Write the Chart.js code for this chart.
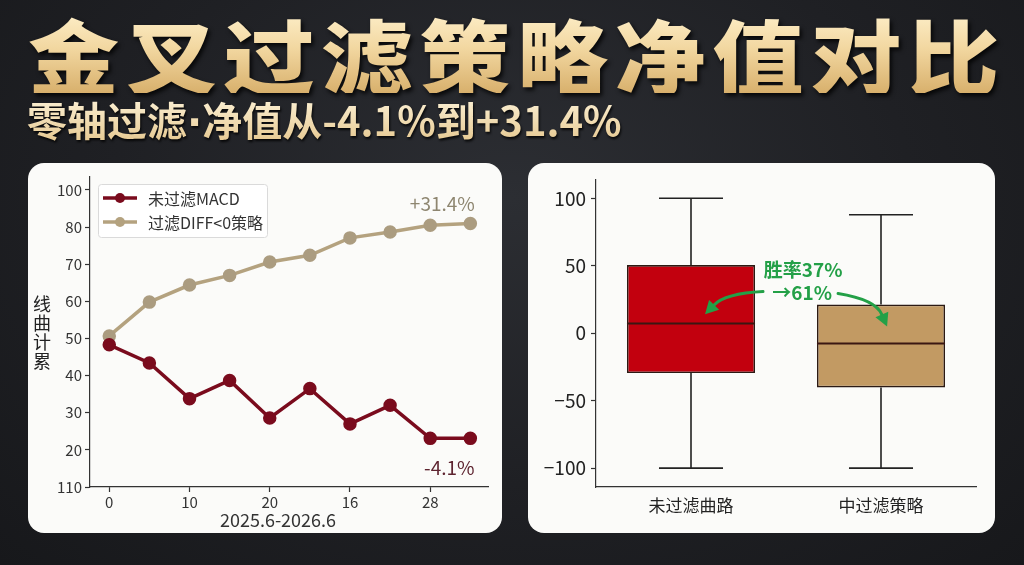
<!DOCTYPE html>
<html>
<head>
<meta charset="utf-8">
<script src="https://cdn.jsdelivr.net/npm/chart.js@4.4.1/dist/chart.umd.min.js"></script>
<style>
  html, body { margin: 0; padding: 0; }
  body {
    width: 1024px; height: 565px; overflow: hidden; position: relative;
    background: radial-gradient(ellipse at 50% 35%, #2c2e33 0%, #1f2024 55%, #17181b 100%);
    font-family: "Noto Sans CJK SC", sans-serif;
  }
  .title {
    position: absolute; left: 28px; top: 12px;
    font-size: 81px; font-weight: 900; line-height: 1; letter-spacing: 6px; white-space: nowrap;
    transform: scaleX(1.124); transform-origin: 0 0;
    background: linear-gradient(180deg, #fdeec8 0%, #f2d7a0 45%, #d8b06c 100%);
    -webkit-background-clip: text; background-clip: text; color: transparent;
    filter: drop-shadow(2px 3px 2px rgba(0,0,0,.8));
  }
  .sub {
    position: absolute; left: 27px; top: 99px;
    font-size: 40px; font-weight: 700; line-height: 1; white-space: nowrap;
    background: linear-gradient(180deg, #fbefd2 0%, #e6c992 100%);
    -webkit-background-clip: text; background-clip: text; color: transparent;
    filter: drop-shadow(1px 2px 1px rgba(0,0,0,.8));
  }
  .sub .dot { font-family: "DejaVu Sans", sans-serif; font-weight: 700; }
  .panel { position: absolute; top: 163px; height: 370px; background: #fbfbf9; border-radius: 16px; overflow: hidden; }
  #p1 { left: 28px; width: 474px; }
  #p2 { left: 528px; width: 467px; }
  canvas { display: block; }
</style>
</head>
<body>
<div class="title">金叉过滤策略净值对比</div>
<div class="sub">零轴过滤<span class="dot">·</span>净值从-4.1%到+31.4%</div>
<div class="panel" id="p1"><canvas id="navChart"></canvas></div>
<div class="panel" id="p2"><canvas id="boxChart"></canvas></div>

<script>
// ---- left chart data ----
const xSteps = [0, 5, 10, 15, 20, 25, 30, 35, 40, 45];
const xTickValues = [0, 10, 20, 30, 40];
const xTickLabels = ['0', '10', '20', '16', '28'];
const yTickValues = [10, 20, 30, 40, 50, 60, 70, 80, 90];
const yTickLabels = ['110', '20', '30', '40', '50', '60', '70', '80', '100'];
const seriesNames = ['未过滤MACD', '过滤DIFF<0策略'];
const unfilteredNav = [48.3, 43.4, 33.8, 38.7, 28.6, 36.5, 27.0, 32.0, 23.1, 23.1];
const filteredNav = [50.7, 59.8, 64.4, 67.0, 70.6, 72.4, 77.1, 78.7, 80.5, 81.0];
const endLabels = ['-4.1%', '+31.4%'];
const xTitle = '2025.6-2026.6';
const yTitle = ['线', '曲', '计', '累'];

// ---- right chart data ----
const boxLabels = ['未过滤曲路', '中过滤策略'];
const boxMin = [-100, -100];
const boxQ1 = [-29.5, -40.2];
const boxMedian = [7.1, -7.6];
const boxQ3 = [50.5, 21.2];
const boxMax = [100, 87.8];
const boxTicks = [-100, -50, 0, 50, 100];
const winRateText = ['胜率37%', '→61%'];

const FONT = '"Noto Sans CJK SC", sans-serif';
const RED = '#7a0b1d', TAN = '#b4a27f';
Chart.defaults.font.family = FONT;
Chart.defaults.animation = false;

// legend, axis titles and end labels for the net value chart
const navDecor = {
  id: 'navDecor',
  afterDraw(chart) {
    const ctx = chart.ctx;
    ctx.save();
    // legend box
    ctx.fillStyle = 'rgba(255,255,255,0.9)';
    ctx.strokeStyle = '#dadada';
    ctx.lineWidth = 1;
    ctx.beginPath();
    ctx.roundRect(70.5, 21.5, 169, 53, 3);
    ctx.fill(); ctx.stroke();
    chart.data.datasets.forEach((ds, i) => {
      const y = 35 + i * 24;
      ctx.strokeStyle = ds.borderColor;
      ctx.lineWidth = 3.5;
      ctx.beginPath(); ctx.moveTo(75, y); ctx.lineTo(109, y); ctx.stroke();
      ctx.fillStyle = ds.borderColor;
      ctx.beginPath(); ctx.arc(92, y, 5, 0, Math.PI * 2); ctx.fill();
      ctx.fillStyle = '#333';
      ctx.font = '16px ' + FONT;
      ctx.textBaseline = 'middle';
      ctx.textAlign = 'left';
      ctx.fillText(ds.label, 120, y + 1);
    });
    // y axis title, stacked characters
    ctx.fillStyle = '#222';
    ctx.font = '18px ' + FONT;
    ctx.textAlign = 'center';
    ctx.textBaseline = 'middle';
    yTitle.forEach((c, k) => ctx.fillText(c, 14, 141 + k * 19));
    // x axis title
    ctx.fillStyle = '#333';
    ctx.fillText(xTitle, 250, 357);
    // end value labels
    ctx.font = '19px ' + FONT;
    const offs = [[-21, 29, '#5e2430'], [-28, -20, '#8e8670']];
    chart.data.datasets.forEach((ds, i) => {
      const pts = chart.getDatasetMeta(i).data;
      const p = pts[pts.length - 1];
      ctx.fillStyle = offs[i][2];
      ctx.fillText(endLabels[i], p.x + offs[i][0], p.y + offs[i][1]);
    });
    ctx.restore();
  }
};

new Chart(document.getElementById('navChart'), {
  type: 'line',
  data: {
    datasets: [
      { label: seriesNames[0], data: xSteps.map((x, i) => ({ x, y: unfilteredNav[i] })),
        borderColor: RED, backgroundColor: RED, pointBackgroundColor: RED, pointBorderColor: RED,
        borderWidth: 3.5, pointRadius: 5, tension: 0 },
      { label: seriesNames[1], data: xSteps.map((x, i) => ({ x, y: filteredNav[i] })),
        borderColor: TAN, backgroundColor: TAN, pointBackgroundColor: '#ab9c80', pointBorderColor: '#ab9c80',
        borderWidth: 3.5, pointRadius: 5, tension: 0 }
    ]
  },
  options: {
    responsive: true, maintainAspectRatio: false,
    layout: { padding: { left: 0, right: 14, top: 14, bottom: 0 } },
    plugins: { legend: { display: false }, tooltip: { enabled: false } },
    scales: {
      x: {
        type: 'linear', min: -2.4, max: 47.2,
        afterBuildTicks: s => { s.ticks = xTickValues.map(v => ({ value: v })); },
        afterFit: s => { s.height = 46; },
        ticks: { callback: v => xTickLabels[xTickValues.indexOf(v)], color: '#333', font: { size: 15 }, padding: 1, maxRotation: 0 },
        grid: { drawOnChartArea: false, color: '#333', tickLength: 5, tickWidth: 1.2 },
        border: { color: '#333', width: 1.2 }
      },
      y: {
        min: 10, max: 93.5,
        afterBuildTicks: s => { s.ticks = yTickValues.map(v => ({ value: v })); },
        afterFit: s => { s.width = 62; },
        ticks: { callback: v => yTickLabels[yTickValues.indexOf(v)], color: '#333', font: { size: 15 }, padding: 3 },
        grid: { drawOnChartArea: false, color: '#333', tickLength: 5, tickWidth: 1.2 },
        border: { color: '#333', width: 1.2 }
      }
    }
  },
  plugins: [navDecor]
});

// whiskers, medians and win-rate note for the box chart
function arrow(ctx, x0, y0, cx, cy, x1, y1) {
  const ang = Math.atan2(y1 - cy, x1 - cx);
  const hl = 13, hw = 7;
  const bx = x1 - Math.cos(ang) * hl, by = y1 - Math.sin(ang) * hl;
  ctx.beginPath(); ctx.moveTo(x0, y0); ctx.quadraticCurveTo(cx, cy, bx, by); ctx.stroke();
  ctx.beginPath();
  ctx.moveTo(x1, y1);
  ctx.lineTo(bx + Math.sin(ang) * hw, by - Math.cos(ang) * hw);
  ctx.lineTo(bx - Math.sin(ang) * hw, by + Math.cos(ang) * hw);
  ctx.closePath(); ctx.fill();
}

const boxDecor = {
  id: 'boxDecor',
  beforeDatasetsDraw(chart) {
    const ctx = chart.ctx, y = chart.scales.y;
    ctx.save();
    ctx.strokeStyle = '#222';
    ctx.lineWidth = 1.6;
    chart.getDatasetMeta(0).data.forEach((bar, i) => {
      const cap = bar.width * 0.25;
      const yMax = y.getPixelForValue(boxMax[i]), yMin = y.getPixelForValue(boxMin[i]);
      ctx.beginPath();
      ctx.moveTo(bar.x, yMax); ctx.lineTo(bar.x, y.getPixelForValue(boxQ3[i]));
      ctx.moveTo(bar.x, yMin); ctx.lineTo(bar.x, y.getPixelForValue(boxQ1[i]));
      ctx.moveTo(bar.x - cap, yMax); ctx.lineTo(bar.x + cap, yMax);
      ctx.moveTo(bar.x - cap, yMin); ctx.lineTo(bar.x + cap, yMin);
      ctx.stroke();
    });
    ctx.restore();
  },
  afterDatasetsDraw(chart) {
    const ctx = chart.ctx, x = chart.scales.x, y = chart.scales.y;
    ctx.save();
    ctx.strokeStyle = '#3a1712';
    ctx.lineWidth = 2;
    chart.getDatasetMeta(0).data.forEach((bar, i) => {
      const ym = y.getPixelForValue(boxMedian[i]);
      ctx.beginPath(); ctx.moveTo(bar.x - bar.width / 2, ym); ctx.lineTo(bar.x + bar.width / 2, ym); ctx.stroke();
    });
    // note text
    const P = (ix, v) => [x.getPixelForValue(ix), y.getPixelForValue(v)];
    ctx.fillStyle = '#23a047';
    ctx.font = 'bold 19px ' + FONT;
    ctx.textAlign = 'center';
    ctx.textBaseline = 'middle';
    let [tx, ty] = P(0.59, 47);
    ctx.fillText(winRateText[0], tx, ty);
    [tx, ty] = P(0.585, 30);
    ctx.fillText(winRateText[1], tx, ty);
    // curved arrows
    ctx.strokeStyle = '#23a047';
    ctx.lineWidth = 3;
    ctx.lineCap = 'round';
    arrow(ctx, ...P(0.379, 30.9), ...P(0.18, 29.5), ...P(0.074, 14));
    arrow(ctx, ...P(0.774, 29.4), ...P(0.97, 25), ...P(1.032, 5));
    ctx.restore();
  }
};

new Chart(document.getElementById('boxChart'), {
  type: 'bar',
  data: {
    labels: boxLabels,
    datasets: [{
      data: boxLabels.map((_, i) => [boxQ1[i], boxQ3[i]]),
      backgroundColor: ['#c2000e', '#c29a63'],
      borderColor: '#2b1a14', borderWidth: 1.6, borderSkipped: false,
      barPercentage: 0.674, categoryPercentage: 1
    }]
  },
  options: {
    responsive: true, maintainAspectRatio: false,
    layout: { padding: { left: 0, right: 19, top: 14, bottom: 0 } },
    plugins: { legend: { display: false }, tooltip: { enabled: false } },
    scales: {
      x: {
        afterFit: s => { s.height = 46; },
        ticks: { color: '#222', font: { size: 17 }, padding: 8 },
        grid: { drawOnChartArea: false, drawTicks: false },
        border: { color: '#333', width: 1.2 }
      },
      y: {
        min: -114, max: 114,
        afterBuildTicks: s => { s.ticks = boxTicks.map(v => ({ value: v })); },
        afterFit: s => { s.width = 68; },
        ticks: { callback: v => (v < 0 ? '\u2212' + Math.abs(v) : String(v)), color: '#222', font: { size: 19 }, padding: 5 },
        grid: { drawOnChartArea: false, color: '#333', tickLength: 5, tickWidth: 1.2 },
        border: { color: '#333', width: 1.2 }
      }
    }
  },
  plugins: [boxDecor]
});
</script>
</body>
</html>
